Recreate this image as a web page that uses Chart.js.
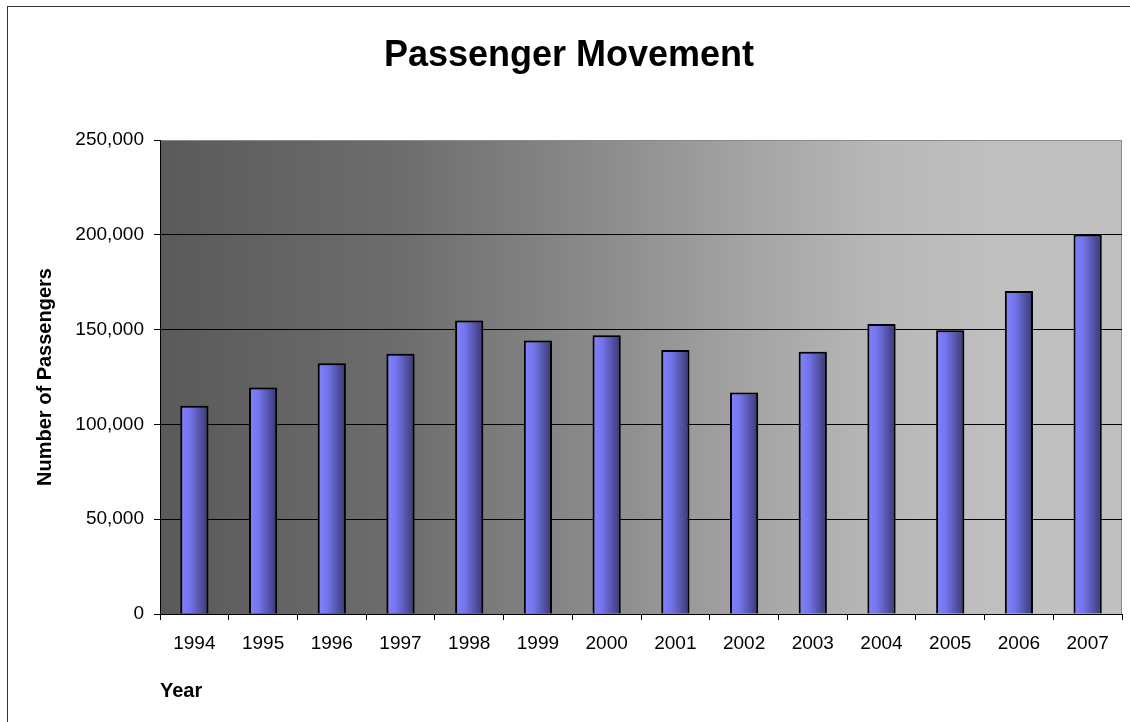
<!DOCTYPE html>
<html>
<head>
<meta charset="utf-8">
<title>Passenger Movement</title>
<script src="https://cdn.jsdelivr.net/npm/chart.js@4"></script>
<style>
    html, body { margin: 0; padding: 0; background: #fff; }
</style>
</head>
<body>
<canvas id="chart" width="1130" height="722"></canvas>
<script>
// 📊 Données
const years = ["1994", "1995", "1996", "1997", "1998", "1999", "2000",
               "2001", "2002", "2003", "2004", "2005", "2006", "2007"];
const passengers = [109800, 119500, 132300, 137300, 154800, 144200, 147000,
                    139200, 116800, 138300, 153000, 149700, 170400, 200200];
const yMin = 0;
const yMax = 250000;
const yStep = 50000;

const FONT = "'Liberation Sans', Arial, sans-serif";
const BAR_PCT = 0.41;

// 🎨 Fond dégradé de la zone de tracé + cadre
const backdrop = {
    id: "backdrop",
    beforeDraw(chart) {
        const { ctx, chartArea: a } = chart;
        ctx.save();
        ctx.strokeStyle = "#333";
        ctx.lineWidth = 1;
        ctx.strokeRect(7.5, 6.5, chart.width + 40, chart.height + 40);

        const g = ctx.createLinearGradient(a.left, 0, a.right, 0);
        g.addColorStop(0, "#5a5a5a");
        g.addColorStop(0.25, "#6d6d6d");
        g.addColorStop(0.45, "#8a8a8a");
        g.addColorStop(0.6, "#a2a2a2");
        g.addColorStop(0.75, "#b8b8b8");
        g.addColorStop(0.88, "#c0c0c0");
        g.addColorStop(1, "#c0c0c0");
        ctx.fillStyle = g;
        ctx.fillRect(a.left, a.top, a.width, a.height);

        ctx.strokeStyle = "#8a8a8a";
        ctx.beginPath();
        ctx.moveTo(a.left, a.top + 0.5);
        ctx.lineTo(a.right - 0.5, a.top + 0.5);
        ctx.lineTo(a.right - 0.5, a.bottom);
        ctx.stroke();
        ctx.restore();
    },
    beforeDatasetsDraw(chart) {
        const ctx = chart.ctx;
        ctx.save();
        ctx.shadowColor = "rgba(0,0,0,0.35)";
        ctx.shadowBlur = 3;
    },
    afterDatasetsDraw(chart) {
        chart.ctx.restore();
    }
};

// 🟦 Dégradé horizontal de chaque barre
function barGradient(c) {
    const chart = c.chart;
    if (!chart.chartArea) return "#7070e0";
    const x = chart.scales.x;
    const cx = x.getPixelForValue(c.dataIndex);
    const half = x.width / years.length * BAR_PCT / 2;
    const g = chart.ctx.createLinearGradient(cx - half, 0, cx + half, 0);
    g.addColorStop(0, "#8282ff");
    g.addColorStop(0.35, "#7474ec");
    g.addColorStop(1, "#38386f");
    return g;
}

new Chart(document.getElementById("chart"), {
    type: "bar",
    data: {
        labels: years,
        datasets: [{
            label: "Passengers",
            data: passengers,
            backgroundColor: barGradient,
            borderColor: "#000",
            borderWidth: 2,
            barPercentage: BAR_PCT,
            categoryPercentage: 1
        }]
    },
    options: {
        responsive: false,
        animation: false,
        layout: { padding: { left: 16, right: 8, top: 0, bottom: 0 } },
        plugins: {
            legend: { display: false },
            tooltip: { enabled: false },
            title: {
                display: true,
                text: "Passenger Movement",
                color: "#000",
                font: { family: FONT, size: 36, weight: "bold" },
                padding: { top: 34, bottom: 62.8 }
            }
        },
        scales: {
            x: {
                offset: true,
                grid: {
                    offset: true,
                    drawOnChartArea: false,
                    drawTicks: true,
                    tickLength: 6,
                    tickColor: "#000"
                },
                border: { color: "#000", width: 1 },
                ticks: {
                    color: "#000",
                    font: { family: FONT, size: 19 },
                    padding: 12,
                    maxRotation: 0
                },
                title: {
                    display: true,
                    text: "Year",
                    align: "start",
                    color: "#000",
                    font: { family: FONT, size: 20, weight: "bold" },
                    padding: { top: 0, bottom: 19 }
                },
                afterFit(scale) { scale.height = 108; }
            },
            y: {
                min: yMin,
                max: yMax,
                grid: {
                    color: ctx => (ctx.tick && ctx.tick.value === yMax) ? "rgba(0,0,0,0)" : "#000",
                    tickColor: "#000",
                    tickLength: 6
                },
                border: { color: "#000", width: 1 },
                ticks: {
                    stepSize: yStep,
                    color: "#000",
                    font: { family: FONT, size: 19 },
                    padding: 10,
                    callback: v => v.toLocaleString("en-US")
                },
                title: {
                    display: true,
                    text: "Number of Passengers",
                    color: "#000",
                    font: { family: FONT, size: 20, weight: "bold" },
                    padding: { top: 17, bottom: 0 }
                },
                afterFit(scale) { scale.width = 144; }
            }
        }
    },
    plugins: [backdrop]
});
</script>
</body>
</html>
